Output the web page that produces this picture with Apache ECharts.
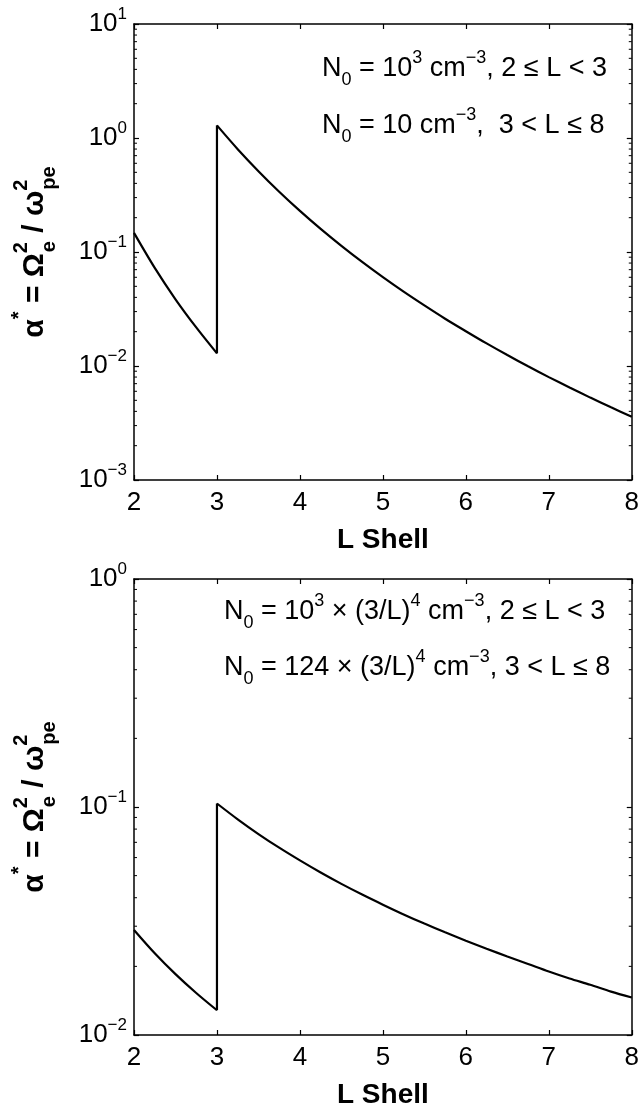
<!DOCTYPE html>
<html><head><meta charset="utf-8">
<script src="https://cdn.jsdelivr.net/npm/echarts@6/dist/echarts.min.js"></script>
<style>html,body{margin:0;padding:0;background:#fff}#c{width:642px;height:1111px}</style>
</head><body><div id="c"></div>
<script>
// ---- data ----
const lowL  = [2, 2.25, 2.5, 2.75, 3];
const highL = [3, 3.25, 3.5, 3.75, 4, 4.25, 4.5, 4.75, 5, 5.25, 5.5, 5.75, 6, 6.25, 6.5, 6.75, 7, 7.25, 7.5, 7.75, 8];
const topLow  = [0.147, 0.0725, 0.0385, 0.0218, 0.0129];
const topHigh = [1.29, 0.798, 0.512, 0.338, 0.2296, 0.1596, 0.1133, 0.0819, 0.0602, 0.0449, 0.0340, 0.0260, 0.0202, 0.01578, 0.01247, 0.00994, 0.00799, 0.00648, 0.00528, 0.00434, 0.00359];
const botLow  = [0.0289, 0.02284, 0.0185, 0.01529, 0.01284];
const botHigh = [0.1036, 0.0883, 0.0761, 0.0663, 0.0583, 0.0516, 0.0460, 0.0413, 0.0373, 0.0338, 0.0308, 0.0282, 0.0259, 0.0239, 0.0221, 0.0205, 0.0190, 0.0177, 0.0166, 0.0155, 0.0146];
const xTicks = [2, 3, 4, 5, 6, 7, 8];
const topDecades = [-3, -2, -1, 0, 1];
const botDecades = [-2, -1, 0];
const minorMult = [2, 3, 4, 5, 6, 7, 8, 9];
const xName = 'L Shell';
const topNote = ['{n|N}{sub|0}{n| = 10}{sup|3}{n| cm}{sup|−3}{n|, 2 ≤ L < 3}',
                 '{n|N}{sub|0}{n| = 10 cm}{sup|−3}{n|,  3 < L ≤ 8}'];
const botNote = ['{n|N}{sub|0}{n| = 10}{sup|3}{n| × (3/L)}{sup|4}{n| cm}{sup|−3}{n|, 2 ≤ L < 3}',
                 '{n|N}{sub|0}{n| = 124 × (3/L)}{sup|4}{n| cm}{sup|−3}{n|, 3 < L ≤ 8}'];

const FF = '"Liberation Sans", Arial, Helvetica, sans-serif';
const pairs = (xs, ys) => xs.map((x, i) => [x, ys[i]]);
function minorVals(decs) {
  const out = [];
  for (let k = 0; k < decs.length - 1; k++) minorMult.forEach(m => out.push([2, m * Math.pow(10, decs[k])]));
  return out;
}

const grids = [
  {left: 134, right: 5, top: 24, height: 456},
  {left: 134, right: 5, top: 579, height: 456}
];
const decs = [topDecades, botDecades];
const lows = [topLow, botLow], highs = [topHigh, botHigh];

const tickRich = {
  b: {fontSize: 26, lineHeight: 36, fontFamily: FF, color: '#000'},
  s: {fontSize: 17, lineHeight: 17, verticalAlign: 'top', fontFamily: FF, color: '#000'}
};
const axLine = {show: true, onZero: false, lineStyle: {color: '#000', width: 1.5}};
const axTick = {show: true, inside: true, length: 5, lineStyle: {color: '#000', width: 1.2}};
const lineStyle = {color: '#000', width: 2.2};

const xAxis = [], yAxis = [], series = [];
[0, 1].forEach(g => {
  xAxis.push({type: 'value', gridIndex: g, min: xTicks[0], max: xTicks[xTicks.length - 1], interval: 1, position: 'bottom',
    axisLine: axLine, axisTick: axTick, splitLine: {show: false},
    axisLabel: {color: '#000', fontSize: 26, fontFamily: FF, margin: 10, showMinLabel: true, showMaxLabel: true},
    name: xName, nameLocation: 'middle', nameGap: 46,
    nameTextStyle: {color: '#000', fontSize: 28, fontWeight: 'bold', fontFamily: FF}});
  xAxis.push({type: 'value', gridIndex: g, min: xTicks[0], max: xTicks[xTicks.length - 1], interval: 1, position: 'top',
    axisLine: axLine, axisTick: axTick, splitLine: {show: false}, axisLabel: {show: false}});
  const d = decs[g];
  const ymin = Math.pow(10, d[0]), ymax = Math.pow(10, d[d.length - 1]);
  yAxis.push({type: 'log', logBase: 10, gridIndex: g, min: ymin, max: ymax, position: 'left',
    axisLine: axLine, axisTick: axTick, splitLine: {show: false}, minorTick: {show: false},
    axisLabel: {margin: 7, showMinLabel: true, showMaxLabel: true, rich: tickRich,
      formatter: v => '{b|10}{s|' + String(Math.round(Math.log10(v))).replace('-', '−') + '}'}});
  yAxis.push({type: 'log', logBase: 10, gridIndex: g, min: ymin, max: ymax, position: 'right',
    axisLine: axLine, axisTick: axTick, splitLine: {show: false}, axisLabel: {show: false}});
  series.push({type: 'custom', xAxisIndex: g * 2, yAxisIndex: g * 2, silent: true, data: minorVals(d),
    renderItem: (params, api) => {
      const v = api.value(1);
      const p1 = api.coord([xTicks[0], v]);
      const p2 = api.coord([xTicks[xTicks.length - 1], v]);
      return {type: 'group', children: [
        {type: 'line', shape: {x1: p1[0], y1: p1[1], x2: p1[0] + 3, y2: p1[1]}, style: {stroke: '#000', lineWidth: 1}},
        {type: 'line', shape: {x1: p2[0] - 3, y1: p2[1], x2: p2[0], y2: p2[1]}, style: {stroke: '#000', lineWidth: 1}}
      ]};
    }});
  const lo = lows[g], hi = highs[g];
  const common = {type: 'line', xAxisIndex: g * 2, yAxisIndex: g * 2, showSymbol: false, symbol: 'none',
    silent: true, lineStyle: lineStyle, z: 5};
  series.push(Object.assign({}, common, {data: pairs(lowL, lo), smooth: 0.3}));
  series.push(Object.assign({}, common, {data: [[lowL[lowL.length - 1], lo[lo.length - 1]], [highL[0], hi[0]]]}));
  series.push(Object.assign({}, common, {data: pairs(highL, hi), smooth: 0.3}));
});

// y-axis name built from pieces (stacked super/subscripts)
const cv = document.createElement('canvas').getContext('2d');
function tw(t, font) { cv.font = font; return cv.measureText(t).width; }
const mainF = 'bold 30px ' + FF, scrF = 'bold 20px ' + FF;
function yName(cx, cy) {
  const pieces = [
    {t: 'α', f: mainF, dy: 0},
    {t: '*', f: scrF, dy: -16},
    {t: ' = Ω', f: mainF, dy: 0},
    {sup: '2', sub: 'e'},
    {t: ' / ω', f: mainF, dy: 0},
    {sup: '2', sub: 'pe'}
  ];
  let x = 0; const items = [];
  pieces.forEach(p => {
    if (p.t !== undefined) {
      items.push({t: p.t, f: p.f, x: x, dy: p.dy}); x += tw(p.t, p.f);
    } else {
      items.push({t: p.sup, f: scrF, x: x, dy: -14});
      items.push({t: p.sub, f: scrF, x: x + 1, dy: 14});
      x += Math.max(tw(p.sup, scrF), tw(p.sub, scrF) + 1);
    }
  });
  const W = x;
  return {type: 'group', x: cx, y: cy, rotation: Math.PI / 2, silent: true,
    children: items.map(it => ({type: 'text', x: it.x - W / 2, y: it.dy,
      style: {text: it.t, font: it.f, fill: '#000', align: 'left', verticalAlign: 'middle'}}))};
}
const noteRich = {
  n: {fontSize: 27, lineHeight: 40, fontFamily: FF, color: '#000'},
  sup: {fontSize: 18, lineHeight: 18, verticalAlign: 'top', fontFamily: FF, color: '#000'},
  sub: {fontSize: 18, lineHeight: 18, verticalAlign: 'bottom', fontFamily: FF, color: '#000'}
};
function note(x, y, txt) {
  return {type: 'text', x: x, y: y, silent: true,
    style: {text: txt, rich: noteRich, font: '27px ' + FF, fill: '#000', align: 'left', verticalAlign: 'middle'}};
}
const graphic = [
  yName(35, 252), yName(35, 807),
  note(322, 69, topNote[0]), note(322, 126, topNote[1]),
  note(224, 612, botNote[0]), note(224, 668, botNote[1])
];

const chart = echarts.init(document.getElementById('c'), null, {renderer: 'canvas'});
chart.setOption({animation: false, backgroundColor: '#fff', grid: grids, xAxis, yAxis, series, graphic});
</script></body></html>
